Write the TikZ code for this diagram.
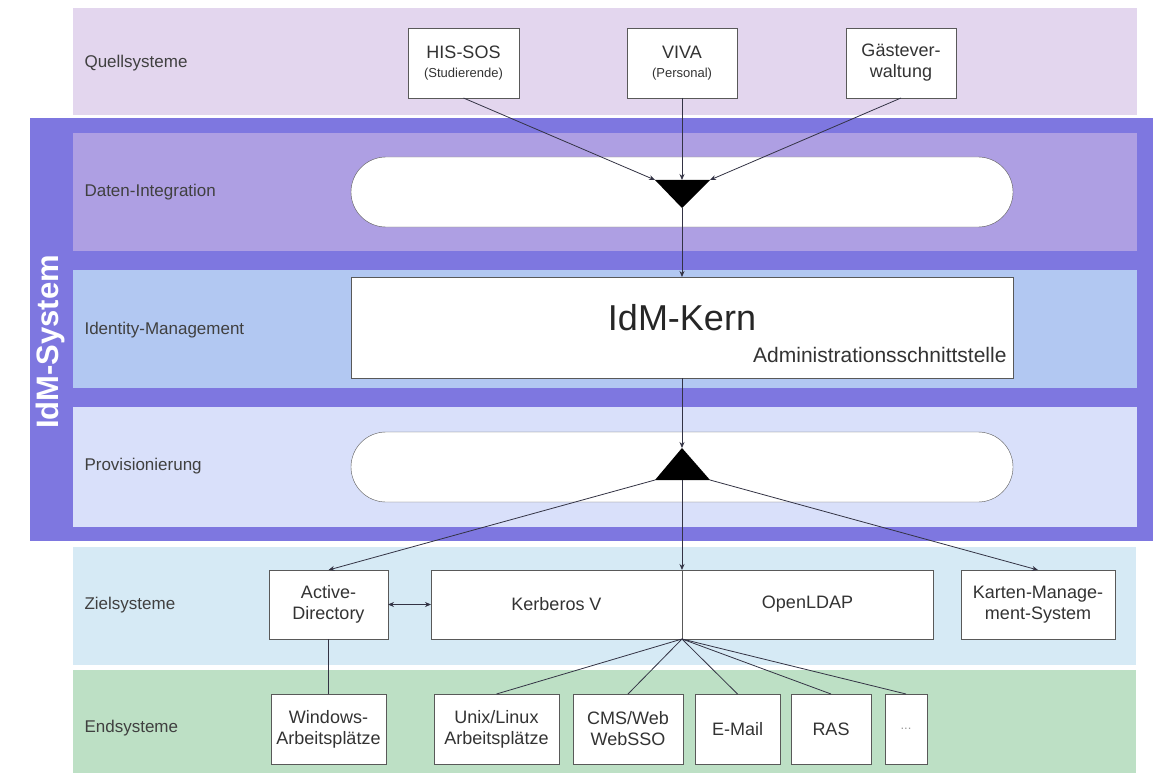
\documentclass[tikz,border=0pt]{standalone}
\usepackage{fontspec}
\setmainfont{Liberation Sans}
\usetikzlibrary{arrows.meta}

\definecolor{quellbg}{HTML}{E3D6EE}
\definecolor{idmrahmen}{HTML}{7E77E0}
\definecolor{datenbg}{HTML}{AE9FE3}
\definecolor{kernbg}{HTML}{B2C8F2}
\definecolor{provbg}{HTML}{D9E0FA}
\definecolor{zielbg}{HTML}{D6EAF5}
\definecolor{endbg}{HTML}{BDE0C5}
\definecolor{linienfarbe}{HTML}{333344}

\newcommand{\klein}{\fontsize{13}{15}\selectfont}

\tikzset{
    sysbox/.style={draw=black!65, fill=white, align=center, inner sep=0pt, outer sep=0pt,
        minimum height=70pt, font=\fontsize{18}{21}\selectfont, text=black!80},
    pill/.style={draw=black!65, fill=white, rounded corners=35pt, inner sep=0pt, outer sep=0pt,
        minimum width=662pt, minimum height=70pt},
    ebene/.style={anchor=west, font=\fontsize{17}{20}\selectfont, text=black!75},
    pfeil/.style={draw=linienfarbe, line width=0.8pt, -{Stealth[length=6pt,width=5pt]}},
    linie/.style={draw=linienfarbe, line width=0.8pt}
}

\begin{document}
\begin{tikzpicture}[x=1pt, y=-1pt]
    \useasboundingbox (0,0) rectangle (1157,773);

    % Ebenen (Hintergrund)
    \fill[quellbg] (73,8) rectangle (1137,115);
    \fill[idmrahmen] (30,118) rectangle (1153,541);
    \fill[datenbg] (73,133) rectangle (1137,251);
    \fill[kernbg] (73,270) rectangle (1137,388);
    \fill[provbg] (73,407) rectangle (1137,527);
    \fill[zielbg] (73,547) rectangle (1136,665);
    \fill[endbg] (73,670) rectangle (1136,773);

    \node[rotate=90, text=white, font=\fontsize{31}{34}\selectfont\bfseries] (idmsys) at (50,342) {IdM-System};

    % Beschriftung der Ebenen
    \node[ebene] (lquell) at (81,63) {Quellsysteme};
    \node[ebene] (ldaten) at (81,192) {Daten-Integration};
    \node[ebene] (lkern) at (81,330) {Identity-Management};
    \node[ebene] (lprov) at (81,466) {Provisionierung};
    \node[ebene] (lziel) at (81,605) {Zielsysteme};
    \node[ebene] (lend) at (81,728) {Endsysteme};

    % Quellsysteme
    \node[sysbox, minimum width=111pt] (his) at (463.5,63) {HIS-SOS\\[-2pt]{\klein (Studierende)}};
    \node[sysbox, minimum width=110pt] (viva) at (682,63) {VIVA\\[-2pt]{\klein (Personal)}};
    \node[sysbox, minimum width=110pt] (gast) at (901,63) {Gästever-\\waltung};

    % Daten-Integration
    \node[pill] (integ) at (682,192) {};
    \coordinate (dl) at (655,180);
    \coordinate (dr) at (710,180);
    \coordinate (dm) at (682,180);
    \coordinate (dspitze) at (682,208);
    \fill (dl) -- (dr) -- (dspitze) -- cycle;

    % IdM-Kern
    \node[sysbox, minimum width=662pt, minimum height=101pt] (kern) at (682,327.5) {};
    \node[font=\fontsize{36}{40}\selectfont, text=black!85] (kerntxt) at (682,318) {IdM-Kern};
    \node[anchor=east, font=\fontsize{21}{24}\selectfont, text=black!80] (admin) at (1010,355) {Administrationsschnittstelle};

    % Provisionierung
    \node[pill] (prov) at (682,467) {};
    \coordinate (pspitze) at (682,448);
    \coordinate (pl) at (655,480);
    \coordinate (pr) at (710,480);
    \coordinate (pm) at (682,480);
    \fill (pspitze) -- (pr) -- (pl) -- cycle;

    % Zielsysteme
    \node[sysbox, minimum width=119pt, minimum height=69pt] (ad) at (328.5,604.5) {Active-\\Directory};
    \node[sysbox, minimum width=251pt, minimum height=69pt] (kerb) at (556.5,604.5) {Kerberos V};
    \node[sysbox, minimum width=251pt, minimum height=69pt] (ldap) at (807.5,604.5) {OpenLDAP};
    \node[sysbox, minimum width=154pt, minimum height=69pt] (karten) at (1038,604.5) {Karten-Manage-\\ment-System};

    % Endsysteme
    \node[sysbox, minimum width=115pt] (win) at (328.5,729) {Windows-\\Arbeitsplätze};
    \node[sysbox, minimum width=125pt] (unix) at (496.5,729) {Unix/Linux\\Arbeitsplätze};
    \node[sysbox, minimum width=110pt] (cms) at (628,729) {CMS/Web\\WebSSO};
    \node[sysbox, minimum width=85pt] (mail) at (737.5,729) {E-Mail};
    \node[sysbox, minimum width=80pt] (ras) at (831,729) {RAS};
    \node[sysbox, minimum width=42pt, text=black!40, font=\klein] (weitere) at (906,729) {...};

    % Verbindungen
    \draw[pfeil] (his.south) -- (dl);
    \draw[pfeil] (viva.south) -- (dm);
    \draw[pfeil] (gast.south) -- (dr);
    \draw[pfeil] (dspitze) -- (kern.north);
    \draw[pfeil] (kern.south) -- (pspitze);
    \draw[pfeil] (pm) -- (kerb.north east);
    \draw[pfeil] (pl) -- (ad.north);
    \draw[pfeil] (pr) -- (karten.north);
    \draw[linie, {Stealth[length=6pt,width=5pt]}-{Stealth[length=6pt,width=5pt]}] (ad.east) -- (kerb.west);
    \draw[linie] (ad.south) -- (win.north);
    \foreach \ziel in {unix, cms, mail, ras, weitere} {
        \draw[linie] (kerb.south east) -- (\ziel.north);
    }
\end{tikzpicture}
\end{document}
